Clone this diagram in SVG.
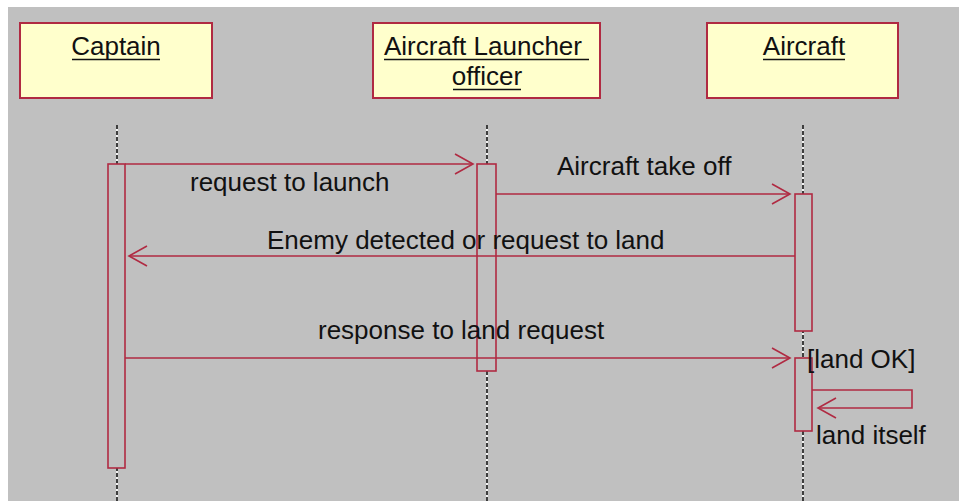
<svg xmlns="http://www.w3.org/2000/svg" width="959" height="501" viewBox="0 0 959 501">
  <style>
    .lbl { font-family: "Liberation Sans", Arial, sans-serif; font-size: 26px; fill: #111; }
    .head { fill: #ffffcc; stroke: #b02a42; stroke-width: 2; }
    .ul { stroke: #111; stroke-width: 1.6; }
    .act { fill: #c0c0c0; stroke: #b02a42; stroke-width: 1.6; }
    .msg { fill: none; stroke: #b02a42; stroke-width: 1.6; }
    .lifew { stroke: #ffffff; stroke-width: 1.6; }
    .lifeb { stroke: #111; stroke-width: 1.6; stroke-dasharray: 4 2; }
  </style>
  <defs>
    <marker id="open" markerUnits="userSpaceOnUse" markerWidth="24" markerHeight="24" refX="20" refY="11" orient="auto">
      <path d="M2,1 L20,11 L2,21" fill="none" stroke="#b02a42" stroke-width="1.6"/>
    </marker>
  </defs>

  <!-- canvas -->
  <rect x="0" y="0" width="959" height="501" fill="#ffffff"/>
  <rect x="8" y="7" width="951" height="494" fill="#c0c0c0"/>

  <!-- lifelines -->
  <g id="lifelines">
    <line class="lifew" x1="117" y1="125" x2="117" y2="501"/>
    <line class="lifeb" x1="117" y1="125" x2="117" y2="501"/>
    <line class="lifew" x1="487" y1="125" x2="487" y2="501"/>
    <line class="lifeb" x1="487" y1="125" x2="487" y2="501"/>
    <line class="lifew" x1="803" y1="125" x2="803" y2="501"/>
    <line class="lifeb" x1="803" y1="125" x2="803" y2="501"/>
  </g>

  <!-- participants -->
  <g id="captain">
    <rect class="head" x="20" y="23" width="192" height="75"/>
    <text class="lbl" x="116" y="55" text-anchor="middle">Captain</text>
    <line class="ul" x1="72" y1="59.5" x2="160" y2="59.5"/>
    <rect class="act" x="108" y="164" width="17" height="304"/>
  </g>
  <g id="officer">
    <rect class="head" x="373" y="23" width="227" height="75"/>
    <text class="lbl" x="384" y="55">Aircraft Launcher</text>
    <line class="ul" x1="384" y1="59.5" x2="589" y2="59.5"/>
    <text class="lbl" x="487" y="85" text-anchor="middle">officer</text>
    <line class="ul" x1="453" y1="89.5" x2="521" y2="89.5"/>
    <rect class="act" x="477" y="164" width="19" height="207"/>
  </g>
  <g id="aircraft">
    <rect class="head" x="707" y="23" width="191" height="75"/>
    <text class="lbl" x="804" y="55" text-anchor="middle">Aircraft</text>
    <line class="ul" x1="763" y1="59.5" x2="845" y2="59.5"/>
    <rect class="act" x="795" y="194" width="17" height="137"/>
    <rect class="act" x="795" y="358" width="17" height="73"/>
  </g>

  <!-- messages -->
  <g id="connectors">
    <line class="msg" x1="125" y1="164" x2="473" y2="164" marker-end="url(#open)"/>
    <text class="lbl" x="190" y="191">request to launch</text>

    <line class="msg" x1="496" y1="194" x2="790" y2="194" marker-end="url(#open)"/>
    <text class="lbl" x="557" y="175">Aircraft take off</text>

    <line class="msg" x1="795" y1="256" x2="129" y2="256" marker-end="url(#open)"/>
    <text class="lbl" x="267" y="249">Enemy detected or request to land</text>

    <line class="msg" x1="125" y1="358" x2="790" y2="358" marker-end="url(#open)"/>
    <text class="lbl" x="318" y="339">response to land request</text>
    <text class="lbl" x="807" y="368">[land OK]</text>

    <polyline class="msg" points="812,390 912,390 912,408 818,408" marker-end="url(#open)"/>
    <text class="lbl" x="816" y="444">land itself</text>
  </g>
</svg>
